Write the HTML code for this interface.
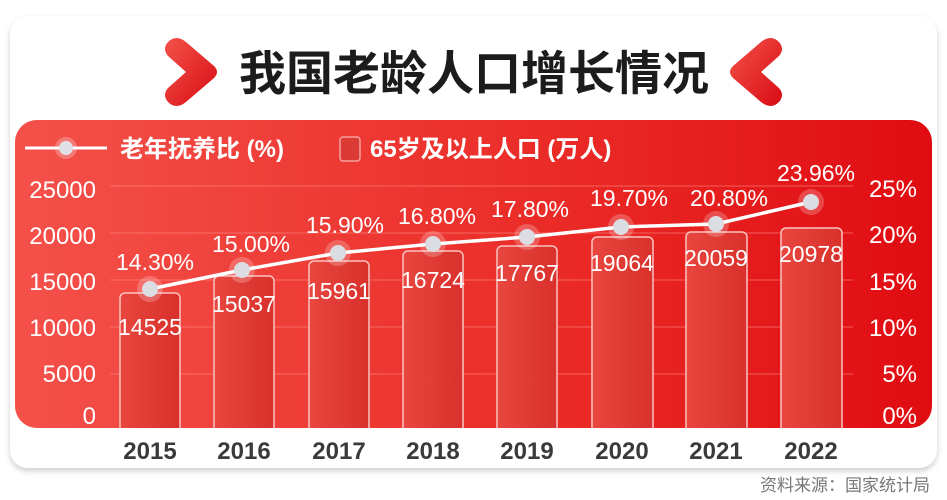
<!DOCTYPE html>
<html><head><meta charset="utf-8"><style>
html,body{margin:0;padding:0;background:#fff;}
svg{display:block;}
text{font-family:"Liberation Sans","Noto Sans CJK SC",sans-serif;}
</style></head><body>
<svg width="947" height="500" viewBox="0 0 947 500" xmlns="http://www.w3.org/2000/svg">
<defs>
<linearGradient id="pg" x1="0" y1="0" x2="1" y2="0">
<stop offset="0" stop-color="#f4514a"/><stop offset="0.6" stop-color="#ea2a26"/><stop offset="1" stop-color="#e00c12"/>
</linearGradient>
<linearGradient id="bg" x1="0" y1="0" x2="1" y2="0">
<stop offset="0" stop-color="#e8463f"/><stop offset="1" stop-color="#d9302b"/>
</linearGradient>
<linearGradient id="cg" x1="0" y1="0" x2="1" y2="1">
<stop offset="0" stop-color="#f4524a"/><stop offset="1" stop-color="#d80c14"/>
</linearGradient>
<filter id="sh" x="-5%" y="-5%" width="110%" height="115%"><feDropShadow dx="0" dy="3" stdDeviation="3" flood-color="#000" flood-opacity="0.2"/></filter>
</defs>
<rect x="10" y="16" width="927" height="452" rx="18" fill="#fff" filter="url(#sh)"/>
<rect x="15" y="120" width="917" height="308" rx="22" fill="url(#pg)"/>
<path d="M168 42 Q176 34 186 42 L214 66 Q220 72 214 78 L186 102 Q176 110 168 102 Q162 95 168 88 L186 72 L168 56 Q162 49 168 42Z" fill="url(#cg)"/>
<path d="M779 42 Q771 34 761 42 L733 66 Q727 72 733 78 L761 102 Q771 110 779 102 Q785 95 779 88 L761 72 L779 56 Q785 49 779 42Z" fill="url(#cg)"/>
<text x="474" y="90" font-size="47" font-weight="bold" text-anchor="middle" fill="#1c1c1c">我国老龄人口增长情况</text>
<line x1="25" y1="148" x2="107" y2="148" stroke="#fff" stroke-width="3"/>
<circle cx="66" cy="148" r="11" fill="#fff" opacity="0.25"/><circle cx="66" cy="148" r="7" fill="#e0e0e6"/>
<text x="120" y="157" font-size="24" font-weight="bold" fill="#fff">老年抚养比 (%)</text>
<rect x="340" y="137" width="20" height="24" rx="3" fill="#dc3a34" stroke="#f6a09c" stroke-width="1.5"/>
<text x="370" y="157" font-size="24" font-weight="bold" fill="#fff">65岁及以上人口 (万人)</text>
<g stroke="#ff8a85" stroke-width="1" opacity="0.6">
<line x1="110" y1="186" x2="853" y2="186"/><line x1="110" y1="233" x2="853" y2="233"/>
<line x1="110" y1="280" x2="853" y2="280"/><line x1="110" y1="327" x2="853" y2="327"/>
<line x1="110" y1="374" x2="853" y2="374"/>
</g>
<g font-size="24" fill="#fff" text-anchor="end">
<text x="96" y="198">25000</text><text x="96" y="244">20000</text><text x="96" y="290">15000</text>
<text x="96" y="336">10000</text><text x="96" y="382">5000</text><text x="96" y="424">0</text>
</g>
<g font-size="24" fill="#fff" text-anchor="end">
<text x="917" y="197">25%</text><text x="917" y="243">20%</text><text x="917" y="290">15%</text>
<text x="917" y="336">10%</text><text x="917" y="382">5%</text><text x="917" y="424">0%</text>
</g>
<g fill="url(#bg)" stroke="#f9c4c1" stroke-width="1.5">
<rect x="120" y="293" width="60" height="140" rx="5"/>
<rect x="214" y="276" width="60" height="157" rx="5"/>
<rect x="309" y="261" width="60" height="172" rx="5"/>
<rect x="403" y="251" width="60" height="182" rx="5"/>
<rect x="497" y="246" width="60" height="187" rx="5"/>
<rect x="592" y="237" width="61" height="196" rx="5"/>
<rect x="686" y="232" width="61" height="201" rx="5"/>
<rect x="781" y="228" width="61" height="205" rx="5"/>
</g>
<rect x="110" y="428" width="760" height="10" fill="#fff"/>
<g font-size="23" fill="#fff" text-anchor="middle">
<text x="150" y="335">14525</text><text x="244" y="312">15037</text><text x="339" y="299">15961</text>
<text x="433" y="288">16724</text><text x="527" y="281">17767</text><text x="622" y="271">19064</text>
<text x="716" y="266">20059</text><text x="811" y="262">20978</text>
</g>
<polyline points="150,289 242,270 338,253 433,244 527,237 621,227 716,224 811,202" fill="none" stroke="#fff" stroke-width="3.5"/>
<g fill="#fff" opacity="0.22">
<circle cx="150" cy="289" r="13"/><circle cx="242" cy="270" r="13"/><circle cx="338" cy="253" r="13"/><circle cx="433" cy="244" r="13"/>
<circle cx="527" cy="237" r="13"/><circle cx="621" cy="227" r="13"/><circle cx="716" cy="224" r="13"/><circle cx="811" cy="202" r="13"/>
</g>
<g fill="#dcdde3">
<circle cx="150" cy="289" r="8"/><circle cx="242" cy="270" r="8"/><circle cx="338" cy="253" r="8"/><circle cx="433" cy="244" r="8"/>
<circle cx="527" cy="237" r="8"/><circle cx="621" cy="227" r="8"/><circle cx="716" cy="224" r="8"/><circle cx="811" cy="202" r="8"/>
</g>
<g font-size="23" fill="#fff" text-anchor="middle">
<text x="155" y="270">14.30%</text><text x="251" y="252">15.00%</text><text x="345" y="233">15.90%</text>
<text x="437" y="224">16.80%</text><text x="530" y="217">17.80%</text><text x="629" y="206">19.70%</text>
<text x="729" y="206">20.80%</text><text x="816" y="181">23.96%</text>
</g>
<g font-size="24" font-weight="bold" fill="#3a3a3a" text-anchor="middle">
<text x="150" y="459">2015</text><text x="244" y="459">2016</text><text x="339" y="459">2017</text>
<text x="433" y="459">2018</text><text x="527" y="459">2019</text><text x="622" y="459">2020</text>
<text x="716" y="459">2021</text><text x="811" y="459">2022</text>
</g>
<text x="930" y="491" font-size="17" fill="#777" text-anchor="end">资料来源：国家统计局</text>
</svg>
</body></html>
